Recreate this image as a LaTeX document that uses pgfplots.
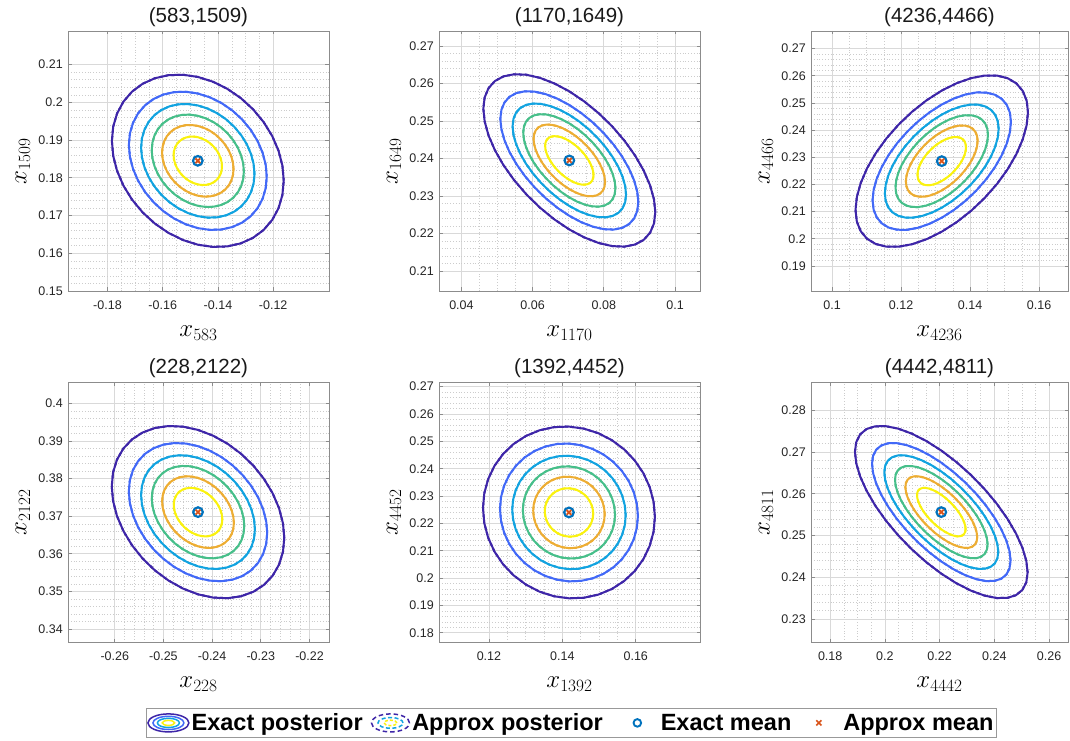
\documentclass[border=0pt]{standalone}
\usepackage[no-math]{fontspec}
\setmainfont{Liberation Sans}
\usepackage{pgfplots}
\usepackage{pgfplotstable}
\pgfplotsset{compat=1.18}

% parula levels, outermost (lowest density) to innermost
\definecolor{lv1}{rgb}{0.2422,0.1504,0.6603}
\definecolor{lv2}{rgb}{0.2600,0.4100,0.9700}
\definecolor{lv3}{rgb}{0.0700,0.6400,0.8800}
\definecolor{lv4}{rgb}{0.2800,0.7500,0.5400}
\definecolor{lv5}{rgb}{0.9300,0.6800,0.2000}
\definecolor{lv6}{rgb}{0.9800,0.9500,0.0600}
\definecolor{meanblue}{rgb}{0.000,0.447,0.741}
\definecolor{meanorange}{rgb}{0.850,0.325,0.098}

% unit circle, 10 degree steps
\pgfplotstableread{
c s
1 0
0.98481 0.17365
0.93969 0.34202
0.86603 0.5
0.76604 0.64279
0.64279 0.76604
0.5 0.86603
0.34202 0.93969
0.17365 0.98481
0 1
-0.17365 0.98481
-0.34202 0.93969
-0.5 0.86603
-0.64279 0.76604
-0.76604 0.64279
-0.86603 0.5
-0.93969 0.34202
-0.98481 0.17365
-1 0
-0.98481 -0.17365
-0.93969 -0.34202
-0.86603 -0.5
-0.76604 -0.64279
-0.64279 -0.76604
-0.5 -0.86603
-0.34202 -0.93969
-0.17365 -0.98481
0 -1
0.17365 -0.98481
0.34202 -0.93969
0.5 -0.86603
0.64279 -0.76604
0.76604 -0.64279
0.86603 -0.5
0.93969 -0.34202
0.98481 -0.17365
1 0
}\unitcircle

% one density contour of a bivariate Gaussian:
% #1 mean x, #2 mean y, #3 sd x, #4 sd y, #5 correlation, #6 Mahalanobis radius, #7 style
\newcommand{\gausslevel}[7]{%
  \addplot[forget plot, line width=2pt, line join=round, #7] table[
    x expr={#1+#6*#3*\thisrow{c}},
    y expr={#2+#6*#4*((#5)*\thisrow{c}+sqrt(1-(#5)^2)*\thisrow{s})}
  ] {\unitcircle};}
% contours at k/7 of the peak density, k = 1..6
\newcommand{\gausscontours}[6]{%
  \gausslevel{#1}{#2}{#3}{#4}{#5}{1.9728}{lv1,#6}
  \gausslevel{#1}{#2}{#3}{#4}{#5}{1.5829}{lv2,#6}
  \gausslevel{#1}{#2}{#3}{#4}{#5}{1.3018}{lv3,#6}
  \gausslevel{#1}{#2}{#3}{#4}{#5}{1.0579}{lv4,#6}
  \gausslevel{#1}{#2}{#3}{#4}{#5}{0.8203}{lv5,#6}
  \gausslevel{#1}{#2}{#3}{#4}{#5}{0.5552}{lv6,#6}}
\newcommand{\gaussmeans}[2]{%
  \addplot[forget plot, only marks, mark=o, mark size=4.8pt, meanblue, line width=2.2pt] coordinates {(#1,#2)};
  \addplot[forget plot, only marks, mark=x, mark size=3.3pt, meanorange, line width=1.9pt] coordinates {(#1,#2)};}

\pgfplotsset{
  panel/.style={
    scale only axis, width=261pt, height=260pt, anchor=south west,
    axis line style={draw=black!45, line width=0.9pt},
    tick align=inside, xtick pos=both, ytick pos=both,
    major tick length=3.5pt, minor tick length=0pt,
    every tick/.style={black!45, line width=0.8pt},
    grid=both,
    major grid style={draw=black!15, line width=0.8pt},
    minor grid style={draw=black!20, line width=0.5pt, dash pattern=on 0.6pt off 2.2pt},
    scaled ticks=false,
    /pgf/number format/.cd, fixed, precision=2, assume math mode=true, /pgfplots/.cd,
    tick label style={font=\fontsize{12.5}{14}\selectfont, text=black!85},
    xticklabel style={anchor=base, yshift=-18.5pt},
    yticklabel style={anchor=east, inner sep=0pt, xshift=-5pt},
    title style={font=\fontsize{20.5}{24}\selectfont, text=black!90, at={(axis description cs:0.5,1)}, anchor=base, yshift=2.5pt, inner sep=0pt},
    xlabel style={font=\fontsize{23}{26}\selectfont, at={(axis description cs:0.5,0)}, anchor=base, yshift=-45.5pt, inner sep=0pt},
    ylabel style={font=\fontsize{23}{26}\selectfont, at={(axis description cs:0,0.5)}, anchor=base, yshift=41.5pt, inner sep=0pt},
  },
  exacticon/.style={legend image code/.code={
    \draw[lv1, line width=1.5pt] (22pt,0pt) ellipse (20.5pt and 9pt);
    \draw[lv2, line width=1.5pt] (22pt,0pt) ellipse (15.5pt and 6.6pt);
    \draw[lv3, line width=1.5pt] (22pt,0pt) ellipse (11pt and 4.6pt);
    \draw[lv6, line width=1.5pt] (22pt,0pt) ellipse (6.2pt and 2.5pt);}},
  approxicon/.style={legend image code/.code={
    \draw[lv1, line width=1.5pt, dash pattern=on 4.5pt off 3pt] (20pt,0pt) ellipse (19pt and 9pt);
    \draw[lv3, line width=1.5pt, dash pattern=on 4pt off 2.5pt] (20pt,0pt) ellipse (12.5pt and 5.4pt);
    \draw[lv6, line width=1.5pt, dash pattern=on 3pt off 2pt] (20pt,0pt) ellipse (6.5pt and 2.7pt);}},
  exactmeanicon/.style={legend image code/.code={
    \path (0pt,0pt) (47pt,0pt);
    \draw[meanblue, line width=1.9pt] (26pt,0pt) circle (3.8pt);}},
  approxmeanicon/.style={legend image code/.code={
    \path (0pt,0pt) (41pt,0pt);
    \draw[meanorange, line width=1.7pt] (16.4pt,-2.6pt) -- (21.6pt,2.6pt) (16.4pt,2.6pt) -- (21.6pt,-2.6pt);}},
}

\begin{document}
\begin{tikzpicture}
\useasboundingbox (0pt,0pt) rectangle (1070pt,740pt);

% ---- row 1 ----
\begin{axis}[panel, at={(68pt,449pt)},
  title={(583,1509)}, xlabel={$x_{583}$}, ylabel={$x_{1509}$},
  xmin=-0.1943, xmax=-0.0998, ymin=0.15, ymax=0.2189,
  xtick={-0.18,-0.16,-0.14,-0.12}, ytick={0.15,0.16,0.17,0.18,0.19,0.2,0.21},
  minor x tick num=3, minor y tick num=4]
  \gausscontours{-0.1473}{0.1845}{0.01577}{0.01158}{-0.23}{solid}
  \gausscontours{-0.1473}{0.1845}{0.01577}{0.01158}{-0.23}{dashed}
  \gaussmeans{-0.1473}{0.1845}
\end{axis}

\begin{axis}[panel, at={(439pt,449pt)},
  title={(1170,1649)}, xlabel={$x_{1170}$}, ylabel={$x_{1649}$},
  xmin=0.0337, xmax=0.107, ymin=0.2047, ymax=0.274,
  xtick={0.04,0.06,0.08,0.1}, ytick={0.21,0.22,0.23,0.24,0.25,0.26,0.27},
  minor x tick num=3, minor y tick num=4]
  \gausscontours{0.0703}{0.2395}{0.01224}{0.01166}{-0.60}{solid}
  \gausscontours{0.0703}{0.2395}{0.01224}{0.01166}{-0.60}{dashed}
  \gaussmeans{0.0703}{0.2395}
\end{axis}

\begin{axis}[panel, at={(811pt,449pt)}, width=257pt,
  title={(4236,4466)}, xlabel={$x_{4236}$}, ylabel={$x_{4466}$},
  xmin=0.0939, xmax=0.1684, ymin=0.1808, ymax=0.2765,
  xtick={0.1,0.12,0.14,0.16}, ytick={0.19,0.2,0.21,0.22,0.23,0.24,0.25,0.26,0.27},
  minor x tick num=3, minor y tick num=4]
  \gausscontours{0.1318}{0.2286}{0.01267}{0.01602}{0.57}{solid}
  \gausscontours{0.1318}{0.2286}{0.01267}{0.01602}{0.57}{dashed}
  \gaussmeans{0.1318}{0.2286}
\end{axis}

% ---- row 2 ----
\begin{axis}[panel, at={(68pt,97.7pt)},
  title={(228,2122)}, xlabel={$x_{228}$}, ylabel={$x_{2122}$},
  xmin=-0.2696, xmax=-0.216, ymin=0.3365, ymax=0.4056,
  xtick={-0.26,-0.25,-0.24,-0.23,-0.22}, ytick={0.34,0.35,0.36,0.37,0.38,0.39,0.4},
  minor x tick num=4, minor y tick num=4]
  \gausscontours{-0.2429}{0.3711}{0.00898}{0.01161}{-0.30}{solid}
  \gausscontours{-0.2429}{0.3711}{0.00898}{0.01161}{-0.30}{dashed}
  \gaussmeans{-0.2429}{0.3711}
\end{axis}

\begin{axis}[panel, at={(439pt,97.7pt)},
  title={(1392,4452)}, xlabel={$x_{1392}$}, ylabel={$x_{4452}$},
  xmin=0.1064, xmax=0.1775, ymin=0.1765, ymax=0.2716,
  xtick={0.12,0.14,0.16}, ytick={0.18,0.19,0.2,0.21,0.22,0.23,0.24,0.25,0.26,0.27},
  minor x tick num=3, minor y tick num=4,
  legend columns=4,
  legend cell align=left,
  legend style={at={(0.507,-0.31)}, anchor=center, draw=black!40, line width=0.9pt,
    font=\bfseries\fontsize{23.5}{26}\selectfont, inner xsep=1pt, inner ysep=3.5pt,
    /tikz/every even column/.append style={column sep=6pt}}]
  \gausscontours{0.1418}{0.2240}{0.01187}{0.01594}{-0.05}{solid}
  \gausscontours{0.1418}{0.2240}{0.01187}{0.01594}{-0.05}{dashed}
  \gaussmeans{0.1418}{0.2240}
  \addlegendimage{exacticon}
  \addlegendentry{Exact posterior}
  \addlegendimage{approxicon}
  \addlegendentry{Approx posterior}
  \addlegendimage{exactmeanicon}
  \addlegendentry{Exact mean}
  \addlegendimage{approxmeanicon}
  \addlegendentry{Approx mean}
\end{axis}

\begin{axis}[panel, at={(811pt,97.7pt)}, width=257pt,
  title={(4442,4811)}, xlabel={$x_{4442}$}, ylabel={$x_{4811}$},
  xmin=0.173, xmax=0.2669, ymin=0.2244, ymax=0.2867,
  xtick={0.18,0.2,0.22,0.24,0.26}, ytick={0.23,0.24,0.25,0.26,0.27,0.28},
  minor x tick num=3, minor y tick num=4]
  \gausscontours{0.2206}{0.2556}{0.01599}{0.01047}{-0.70}{solid}
  \gausscontours{0.2206}{0.2556}{0.01599}{0.01047}{-0.70}{dashed}
  \gaussmeans{0.2206}{0.2556}
\end{axis}
\end{tikzpicture}
\end{document}
